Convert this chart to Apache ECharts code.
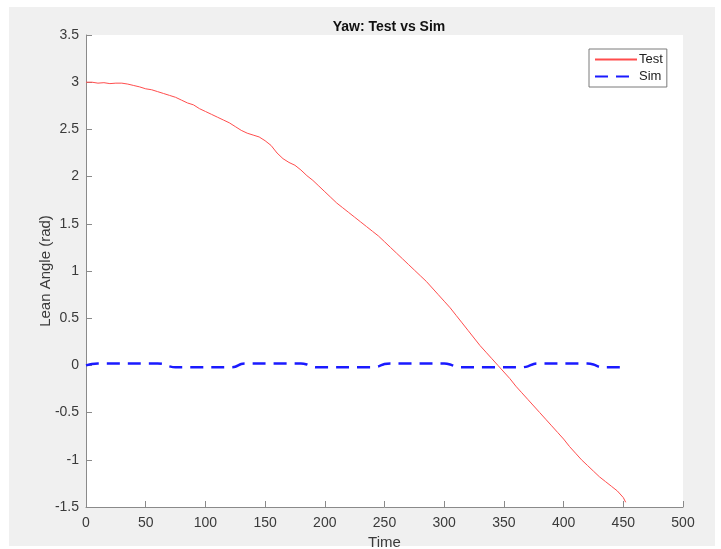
<!DOCTYPE html>
<html>
<head>
<meta charset="utf-8">
<script src="https://cdn.jsdelivr.net/npm/echarts@6/dist/echarts.min.js"></script>
<style>
  html, body { margin: 0; padding: 0; background: #ffffff; }
  #wrap { position: relative; width: 721px; height: 549px; }
  #figure { position: absolute; left: 9px; top: 7px; width: 706px; height: 539px; background: #f0f0f0; }
  #chart { position: absolute; left: 0; top: 0; width: 721px; height: 549px; }
</style>
</head>
<body>
<div id="wrap">
  <div id="figure"></div>
  <div id="chart"></div>
</div>
<script>
// Time samples and lean angle (rad) for the measured run
const testTime = [0, 5, 10, 15, 20, 25, 30, 35, 40, 45, 50, 55, 60, 65, 70, 75, 80, 85, 90, 95,
  100, 105, 110, 115, 120, 125, 130, 135, 140, 145, 150, 155, 160, 165, 170, 175, 180, 185, 190, 195,
  200, 205, 210, 215, 220, 225, 230, 235, 240, 245, 250, 255, 260, 265, 270, 275, 280, 285, 290, 295,
  300, 305, 310, 315, 320, 325, 330, 335, 340, 345, 350, 355, 360, 365, 370, 375, 380, 385, 390, 395,
  400, 405, 410, 415, 420, 425, 430, 435, 440, 445, 450, 452];
const testAngle = [3.00, 3.00, 2.99, 2.995, 2.985, 2.99, 2.99, 2.98, 2.965, 2.95, 2.93, 2.92, 2.90, 2.88, 2.86, 2.84, 2.81, 2.78, 2.76, 2.72,
  2.69, 2.66, 2.63, 2.60, 2.57, 2.53, 2.49, 2.46, 2.44, 2.42, 2.38, 2.33, 2.25, 2.19, 2.15, 2.12, 2.07, 2.01, 1.96, 1.90,
  1.84, 1.78, 1.72, 1.67, 1.62, 1.57, 1.52, 1.47, 1.42, 1.37, 1.31, 1.25, 1.19, 1.13, 1.07, 1.01, 0.95, 0.89, 0.82, 0.75,
  0.68, 0.61, 0.53, 0.45, 0.37, 0.29, 0.21, 0.14, 0.07, 0.00, -0.07, -0.14, -0.22, -0.29, -0.36, -0.43, -0.50, -0.57, -0.64, -0.71,
  -0.78, -0.86, -0.93, -1.00, -1.06, -1.12, -1.18, -1.23, -1.28, -1.33, -1.40, -1.45];

// Simulated lean angle (rad)
const simTime = [0, 5, 10, 15, 20, 25, 30, 35, 40, 45, 50, 55, 60, 65, 70, 75, 80, 85, 90, 95,
  100, 105, 110, 115, 120, 125, 130, 135, 140, 145, 150, 155, 160, 165, 170, 175, 180, 185, 190, 195,
  200, 205, 210, 215, 220, 225, 230, 235, 240, 245, 250, 255, 260, 265, 270, 275, 280, 285, 290, 295,
  300, 305, 310, 315, 320, 325, 330, 335, 340, 345, 350, 355, 360, 365, 370, 375, 380, 385, 390, 395,
  400, 405, 410, 415, 420, 425, 430, 435, 440, 445, 450];
const simAngle = [0.00, 0.015, 0.02, 0.02, 0.02, 0.02, 0.02, 0.02, 0.02, 0.02, 0.02, 0.02, 0.02, 0.015, -0.01, -0.02, -0.02, -0.02, -0.02, -0.02,
  -0.02, -0.02, -0.02, -0.02, -0.02, -0.015, 0.015, 0.02, 0.02, 0.02, 0.02, 0.02, 0.02, 0.02, 0.02, 0.02, 0.02, 0.01, -0.015, -0.02,
  -0.02, -0.02, -0.02, -0.02, -0.02, -0.02, -0.02, -0.02, -0.02, -0.01, 0.015, 0.02, 0.02, 0.02, 0.02, 0.02, 0.02, 0.02, 0.02, 0.02,
  0.02, 0.01, -0.015, -0.02, -0.02, -0.02, -0.02, -0.02, -0.02, -0.02, -0.02, -0.02, -0.02, -0.02, -0.01, 0.015, 0.02, 0.02, 0.02, 0.02,
  0.02, 0.02, 0.02, 0.02, 0.02, 0.01, -0.015, -0.02, -0.02, -0.02, -0.02];

const seriesNames = ['Test', 'Sim'];

const zip = (xs, ys) => xs.map((x, i) => [x, ys[i]]);

const fontFamily = '"Liberation Sans", Arial, Helvetica, sans-serif';
const axisColor = '#8a8a8a';
const textColor = '#3a3a3a';

const chart = echarts.init(document.getElementById('chart'), null, { renderer: 'canvas' });

chart.setOption({
  animation: false,
  backgroundColor: 'transparent',
  title: {
    text: 'Yaw: Test vs Sim',
    left: 384,
    top: 15,
    textAlign: 'center',
    textStyle: { fontFamily, fontSize: 14, fontWeight: 'bold', color: '#111' }
  },
  legend: {
    data: seriesNames,
    orient: 'vertical',
    left: 589,
    top: 49,
    padding: [4, 4, 4, 5],
    itemGap: 4,
    itemWidth: 42,
    itemHeight: 12,
    backgroundColor: '#ffffff',
    borderColor: '#7a7a7a',
    borderWidth: 1,
    borderRadius: 0,
    itemStyle: { opacity: 0 },
    textStyle: { fontFamily, fontSize: 13, color: '#222', padding: [0, 0, 0, -3] }
  },
  grid: {
    left: 86,
    top: 35,
    width: 597,
    height: 472,
    containLabel: false,
    outerBoundsMode: 'none',
    show: true,
    backgroundColor: '#ffffff',
    borderWidth: 0
  },
  xAxis: {
    type: 'value',
    min: 0,
    max: 500,
    interval: 50,
    name: 'Time',
    nameLocation: 'middle',
    nameGap: 27,
    nameTextStyle: { fontFamily, fontSize: 15, color: textColor },
    axisLine: { show: true, onZero: false, lineStyle: { color: axisColor, width: 1 } },
    axisTick: { show: true, inside: true, length: 6, lineStyle: { color: axisColor } },
    axisLabel: { fontFamily, fontSize: 14, color: textColor, margin: 9 },
    splitLine: { show: false }
  },
  yAxis: {
    type: 'value',
    min: -1.5,
    max: 3.5,
    interval: 0.5,
    name: 'Lean Angle (rad)',
    nameLocation: 'middle',
    nameGap: 33,
    nameMoveOverlap: false,
    nameTextStyle: { fontFamily, fontSize: 15, color: textColor },
    axisLine: { show: true, onZero: false, lineStyle: { color: axisColor, width: 1 } },
    axisTick: { show: true, inside: true, length: 6, lineStyle: { color: axisColor } },
    axisLabel: { fontFamily, fontSize: 14, color: textColor, margin: 7 },
    splitLine: { show: false }
  },
  series: [
    {
      name: seriesNames[0],
      type: 'line',
      data: zip(testTime, testAngle),
      showSymbol: false,
      symbol: 'none',
      lineStyle: { color: '#ff4d4d', width: 1 },
      itemStyle: { color: '#ff4d4d' },
      z: 3
    },
    {
      name: seriesNames[1],
      type: 'line',
      data: zip(simTime, simAngle),
      showSymbol: false,
      symbol: 'none',
      smooth: 0.3,
      lineStyle: { color: '#1a1aff', width: 2.5, type: [13, 8] },
      itemStyle: { color: '#1a1aff' },
      z: 2
    }
  ]
});
</script>
</body>
</html>
